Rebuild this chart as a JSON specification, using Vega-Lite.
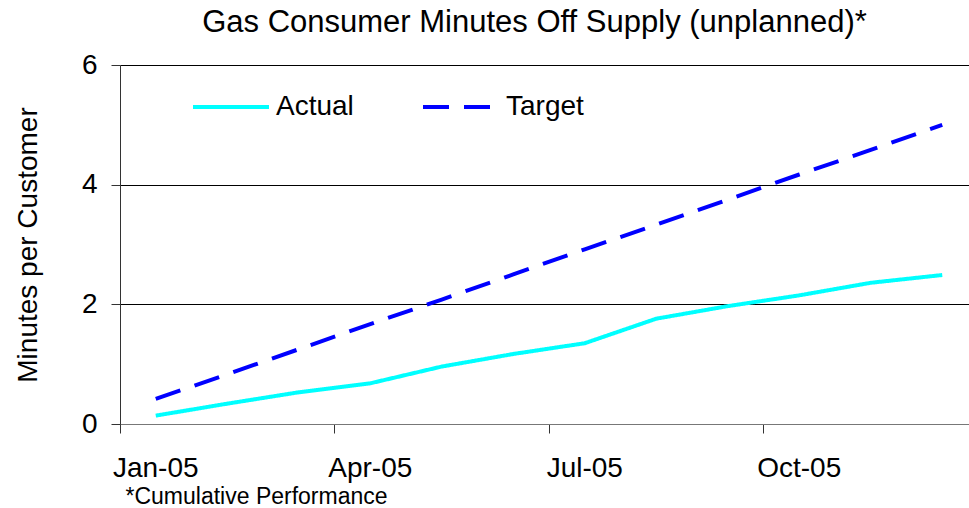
{
  "$schema": "https://vega.github.io/schema/vega-lite/v6.json",
  "autosize": "none",
  "width": 849,
  "height": 359,
  "padding": {"left": 120, "top": 65, "right": 0, "bottom": 84},
  "background": "white",
  "title": {
    "text": "Gas Consumer Minutes Off Supply (unplanned)*",
    "font": "Liberation Sans",
    "fontSize": 31,
    "fontWeight": "normal",
    "color": "#000",
    "anchor": "middle",
    "baseline": "alphabetic",
    "offset": -12,
    "dx": -10
  },
  "data": {
    "values": [
      {"month": "Jan-05", "series": "Actual", "value": 0.14},
      {"month": "Feb-05", "series": "Actual", "value": 0.34},
      {"month": "Mar-05", "series": "Actual", "value": 0.53},
      {"month": "Apr-05", "series": "Actual", "value": 0.68},
      {"month": "May-05", "series": "Actual", "value": 0.96},
      {"month": "Jun-05", "series": "Actual", "value": 1.17},
      {"month": "Jul-05", "series": "Actual", "value": 1.35},
      {"month": "Aug-05", "series": "Actual", "value": 1.76},
      {"month": "Sep-05", "series": "Actual", "value": 1.97},
      {"month": "Oct-05", "series": "Actual", "value": 2.15},
      {"month": "Nov-05", "series": "Actual", "value": 2.36},
      {"month": "Dec-05", "series": "Actual", "value": 2.49},
      {"month": "Jan-05", "series": "Target", "value": 0.42},
      {"month": "Feb-05", "series": "Target", "value": 0.83},
      {"month": "Mar-05", "series": "Target", "value": 1.25},
      {"month": "Apr-05", "series": "Target", "value": 1.67},
      {"month": "May-05", "series": "Target", "value": 2.08},
      {"month": "Jun-05", "series": "Target", "value": 2.5},
      {"month": "Jul-05", "series": "Target", "value": 2.92},
      {"month": "Aug-05", "series": "Target", "value": 3.33},
      {"month": "Sep-05", "series": "Target", "value": 3.75},
      {"month": "Oct-05", "series": "Target", "value": 4.17},
      {"month": "Nov-05", "series": "Target", "value": 4.58},
      {"month": "Dec-05", "series": "Target", "value": 5.0}
    ]
  },
  "mark": {"type": "line", "strokeWidth": 4, "strokeCap": "butt", "strokeJoin": "miter"},
  "encoding": {
    "x": {
      "field": "month",
      "type": "ordinal",
      "bandPosition": 0.5,
      "sort": ["Jan-05", "Feb-05", "Mar-05", "Apr-05", "May-05", "Jun-05", "Jul-05", "Aug-05", "Sep-05", "Oct-05", "Nov-05", "Dec-05"],
      "scale": {"type": "band", "range": [0, 858], "paddingInner": 0, "paddingOuter": 0},
      "axis": {
        "values": ["Jan-05", "Apr-05", "Jul-05", "Oct-05"],
        "bandPosition": 0,
        "tickExtra": false,
        "labelAngle": 0,
        "labelFont": "Liberation Sans",
        "labelFontSize": 28,
        "labelColor": "#000",
        "labelBaseline": "alphabetic",
        "labelPadding": 43,
        "tickSize": 9,
        "tickColor": "#333",
        "domainColor": "#777",
        "grid": false,
        "title": "*Cumulative Performance",
        "titleFont": "Liberation Sans",
        "titleFontSize": 23,
        "titleFontWeight": "normal",
        "titleColor": "#000",
        "titleAnchor": "start",
        "titleAlign": "left",
        "titleBaseline": "alphabetic",
        "titleX": 5,
        "titleY": 79
      }
    },
    "y": {
      "field": "value",
      "type": "quantitative",
      "scale": {"domain": [0, 6], "nice": false},
      "axis": {
        "values": [0, 2, 4, 6],
        "grid": true,
        "gridColor": "#000",
        "gridWidth": 1,
        "labelFont": "Liberation Sans",
        "labelFontSize": 28,
        "labelColor": "#000",
        "labelPadding": 14,
        "tickSize": 9,
        "tickColor": "#333",
        "domainColor": "#333",
        "title": "Minutes per Customer",
        "titleFont": "Liberation Sans",
        "titleFontSize": 28,
        "titleFontWeight": "normal",
        "titleColor": "#000",
        "titleBaseline": "alphabetic",
        "titleX": -84
      }
    },
    "color": {
      "field": "series",
      "type": "nominal",
      "scale": {"domain": ["Actual", "Target"], "range": ["#00FFFF", "#0000FF"]},
      "legend": {
        "title": null,
        "orient": "none",
        "direction": "horizontal",
        "legendX": 71,
        "legendY": 2,
        "symbolType": "stroke",
        "symbolSize": 5776,
        "symbolStrokeWidth": 4,
        "labelFont": "Liberation Sans",
        "labelFontSize": 28,
        "labelColor": "#000",
        "labelOffset": 5,
        "columnPadding": 61
      }
    },
    "strokeDash": {
      "field": "series",
      "type": "nominal",
      "scale": {"domain": ["Actual", "Target"], "range": [[1, 0], [26, 15]]}
    }
  },
  "config": {
    "view": {"stroke": null}
  }
}
